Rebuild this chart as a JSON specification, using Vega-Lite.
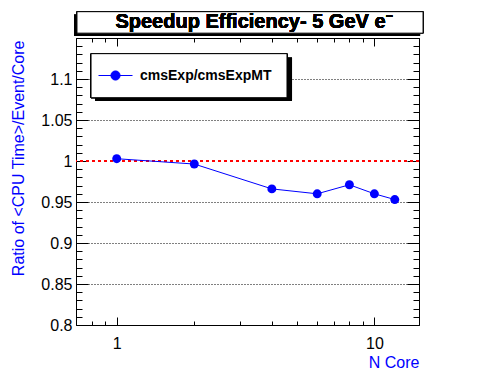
{
  "$schema": "https://vega.github.io/schema/vega-lite/v6.json",
  "width": 343,
  "height": 287,
  "autosize": {"type": "none"},
  "padding": {"left": 76, "top": 38, "right": 77, "bottom": 47},
  "background": "white",
  "config": {
    "font": "Liberation Sans",
    "view": {"stroke": "black", "strokeWidth": 1},
    "axis": {
      "domain": false,
      "grid": false,
      "tickColor": "black",
      "tickWidth": 1,
      "labelColor": "black",
      "labelFont": "Liberation Sans",
      "labelFontSize": 16,
      "titleFont": "Liberation Sans",
      "titleFontSize": 16,
      "titleFontWeight": "normal",
      "titleColor": "#0000ff"
    }
  },
  "datasets": {
    "eff": [
      {"N": 1, "ratio": 1.0028, "series": "cmsExp/cmsExpMT"},
      {"N": 2, "ratio": 0.9963, "series": "cmsExp/cmsExpMT"},
      {"N": 4, "ratio": 0.966, "series": "cmsExp/cmsExpMT"},
      {"N": 6, "ratio": 0.960, "series": "cmsExp/cmsExpMT"},
      {"N": 8, "ratio": 0.971, "series": "cmsExp/cmsExpMT"},
      {"N": 10, "ratio": 0.960, "series": "cmsExp/cmsExpMT"},
      {"N": 12, "ratio": 0.953, "series": "cmsExp/cmsExpMT"}
    ]
  },
  "data": {"name": "eff"},
  "resolve": {"axis": {"x": "independent", "y": "independent"}},
  "layer": [
    {
      "mark": {"type": "rect", "fill": "black", "clip": false},
      "encoding": {
        "x": {"datum": 0.683, "type": "quantitative",
          "axis": {"orient": "bottom", "values": [0.8, 0.9, 2, 3, 4, 5, 6, 7, 8, 9], "tickSize": -4, "labels": false, "title": null}},
        "x2": {"datum": 15.04},
        "y": {"datum": 1.1784, "type": "quantitative",
          "axis": {"orient": "left", "values": [0.8,0.81,0.82,0.83,0.84,0.85,0.86,0.87,0.88,0.89,0.9,0.91,0.92,0.93,0.94,0.95,0.96,0.97,0.98,0.99,1,1.01,1.02,1.03,1.04,1.05,1.06,1.07,1.08,1.09,1.1,1.11,1.12,1.13,1.14,1.15], "tickSize": -6, "labels": false, "title": null}},
        "y2": {"datum": 1.1528}
      }
    },
    {
      "mark": {"type": "rect", "fill": "white", "stroke": "black", "strokeWidth": 1, "clip": false},
      "encoding": {
        "x": {"datum": 0.701, "type": "quantitative",
          "axis": {"orient": "top", "values": [0.8, 0.9, 2, 3, 4, 5, 6, 7, 8, 9], "tickSize": -4, "labels": false, "title": null}},
        "x2": {"datum": 15.45},
        "y": {"datum": 1.1821, "type": "quantitative",
          "axis": {"orient": "right", "values": [0.8,0.81,0.82,0.83,0.84,0.85,0.86,0.87,0.88,0.89,0.9,0.91,0.92,0.93,0.94,0.95,0.96,0.97,0.98,0.99,1,1.01,1.02,1.03,1.04,1.05,1.06,1.07,1.08,1.09,1.1,1.11,1.12,1.13,1.14,1.15], "tickSize": -6, "labels": false, "title": null}},
        "y2": {"datum": 1.1559}
      }
    },
    {
      "mark": {"type": "text", "text": "Speedup Efficiency- 5 GeV e⁻", "font": "Liberation Sans", "fontSize": 20, "fontWeight": "bold", "color": "black", "align": "center", "baseline": "alphabetic", "clip": false},
      "encoding": {
        "x": {"datum": 3.41, "type": "quantitative", "axis": null},
        "y": {"datum": 1.1625, "type": "quantitative", "axis": null}
      }
    },
    {
      "mark": {"type": "rule", "color": "#ff0000", "strokeWidth": 1, "strokeDash": [3, 3]},
      "encoding": {
        "y": {"datum": 1, "type": "quantitative",
          "axis": {"orient": "left", "values": [0.85, 0.9, 0.95, 1.05, 1.1], "ticks": false, "labels": false, "grid": true, "gridColor": "black", "gridDash": [1, 2], "gridWidth": 1, "gridOpacity": 1, "title": null}}
      }
    },
    {
      "mark": {"type": "line", "color": "#0000ff", "strokeWidth": 1},
      "encoding": {
        "x": {"field": "N", "type": "quantitative",
          "scale": {"type": "log", "domain": [0.695, 14.9], "nice": false},
          "axis": {"orient": "bottom", "values": [1, 10], "format": "~g", "ticks": false, "labelPadding": 10, "title": "N Core", "titleAnchor": "end", "titleAlign": "right", "titleBaseline": "alphabetic", "titleX": 343, "titleY": 42}},
        "y": {"field": "ratio", "type": "quantitative",
          "scale": {"domain": [0.8, 1.15], "nice": false, "zero": false},
          "axis": {"orient": "left", "values": [0.8, 0.85, 0.9, 0.95, 1, 1.05, 1.1], "format": "~g", "ticks": false, "labelPadding": 4, "title": "Ratio of <CPU Time>/Event/Core", "titleAnchor": "end", "titleAlign": "right", "titleAngle": -90, "titleBaseline": "middle", "titleX": -58, "titleY": 2}}
      }
    },
    {
      "mark": {"type": "circle", "size": 80, "opacity": 1},
      "encoding": {
        "x": {"field": "N", "type": "quantitative",
          "axis": {"orient": "bottom", "values": [1, 10], "tickSize": -8, "labels": false, "title": null}},
        "y": {"field": "ratio", "type": "quantitative",
          "axis": {"orient": "left", "values": [0.8, 0.85, 0.9, 0.95, 1, 1.05, 1.1, 1.15], "tickSize": -12, "labels": false, "title": null}},
        "color": {"field": "series", "type": "nominal",
          "scale": {"range": ["#0000ff"]},
          "legend": {
            "title": null,
            "orient": "none",
            "legendX": 22,
            "legendY": 20,
            "padding": 0,
            "symbolType": "M-1,0L1,0M-0.27,0A0.27,0.27 0 1,0 0.27,0A0.27,0.27 0 1,0 -0.27,0Z",
            "symbolSize": 1156,
            "symbolStrokeWidth": 1,
            "symbolStrokeColor": "#0000ff",
            "symbolFillColor": "#0000ff",
            "labelFont": "Liberation Sans",
            "labelFontSize": 14,
            "labelFontWeight": "bold",
            "labelColor": "black",
            "labelOffset": 7,
            "encode": {"symbols": {"update": {"stroke": {"value": "#0000ff"}, "strokeWidth": {"value": 1}, "fill": {"value": "#0000ff"}, "opacity": {"value": 1}}}}
          }}
      }
    },
    {
      "mark": {"type": "rect", "fill": "black"},
      "encoding": {
        "x": {"datum": 0.824, "type": "quantitative",
          "axis": {"orient": "top", "values": [1, 10], "tickSize": -8, "labels": false, "title": null}},
        "x2": {"datum": 4.79},
        "y": {"datum": 1.126, "type": "quantitative",
          "axis": {"orient": "right", "values": [0.8, 0.85, 0.9, 0.95, 1, 1.05, 1.1, 1.15], "tickSize": -12, "labels": false, "title": null}},
        "y2": {"datum": 1.0735}
      }
    },
    {
      "mark": {"type": "rect", "fill": "white", "stroke": "black", "strokeWidth": 1},
      "encoding": {
        "x": {"datum": 0.795, "type": "quantitative", "axis": null},
        "x2": {"datum": 4.58},
        "y": {"datum": 1.1309, "type": "quantitative", "axis": null},
        "y2": {"datum": 1.0772}
      }
    }
  ]
}
